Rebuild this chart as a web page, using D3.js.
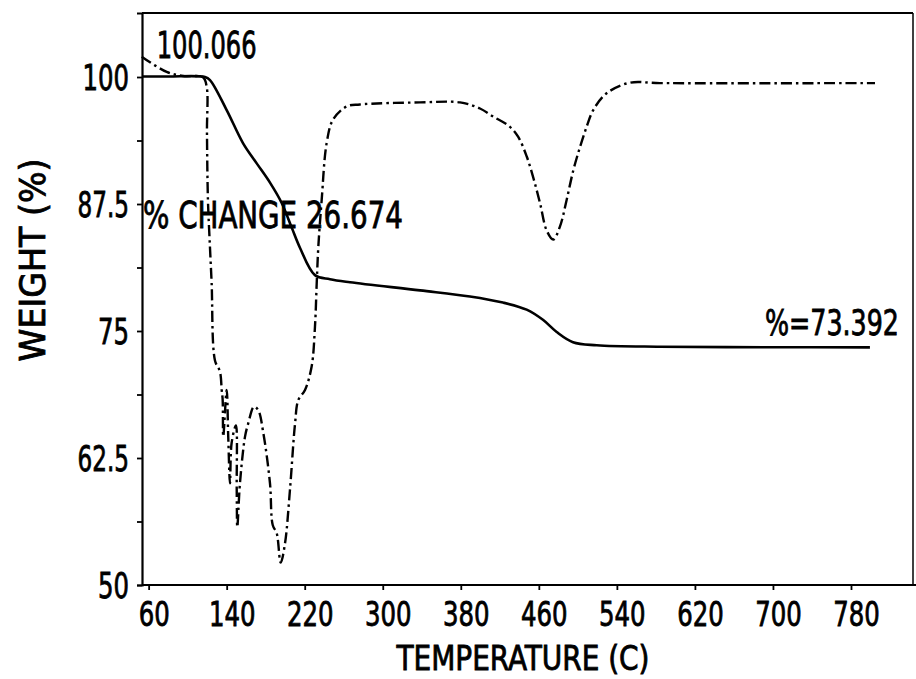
<!DOCTYPE html>
<html>
<head>
<meta charset="utf-8">
<script src="https://cdn.jsdelivr.net/npm/d3@7"></script>
<style>
  body { margin: 0; background: #fff; }
  text { font-family: "DejaVu Sans Condensed", "Liberation Sans Narrow", "DejaVu Sans", sans-serif; fill: #000; stroke: #000; stroke-width: 0.8px; }
</style>
</head>
<body>
<div id="chart-area"></div>
<script>
// TG curve (weight %, solid)
var tgTemp   = [53.2, 80, 117.8, 122.9, 140, 156.7, 170.8, 184.4, 196.4, 206.6, 215.1, 230.5, 245.9, 266.4, 338.2, 389.4, 423.2, 447.5, 464.2, 478.3, 495, 519.3, 584.2, 700, 799.4];
var tgWeight = [100.05, 100.05, 100.0, 99.7, 96.75, 93.5, 91.5, 89.6, 87.6, 85.2, 83.2, 80.5, 80.1, 79.8, 79.0, 78.4, 77.8, 77.1, 76.1, 74.9, 73.9, 73.6, 73.45, 73.4, 73.392];

// DTG curve (dash-dot), drawn on the weight axis
var dtgTemp  = [52.9, 78.5, 95.2, 115.7, 119.5, 119.8, 120.8, 122.9, 124.6, 128.0, 133.1, 134.9, 135.9, 136.5, 140, 141.6, 143.4, 145.1, 149.5, 150.3, 150.9, 153.6, 158.8, 162.1, 168, 172.4, 177.5, 184.4, 187.2, 191.3, 195.4, 199.8, 204.9, 210.1, 213.4, 220.3, 227.1, 230.5, 232.3, 233.9, 237.4, 242.5, 249.0, 263, 276.6, 338.2, 379.2, 399.7, 413.3, 430.4, 438.9, 447.5, 454.3, 461.2, 468, 474.8, 481.7, 488.5, 495.3, 502.2, 509, 515.8, 529.5, 553.4, 584.2, 804.6];
var dtgValue = [102.0, 100.5, 100.1, 99.97, 99.05, 94.5, 87.9, 83.2, 79.7, 72.1, 71.0, 69.2, 68.2, 64.6, 69.2, 64.6, 60.0, 64.0, 65.7, 59.4, 55.7, 60.0, 64.6, 65.9, 67.55, 67.2, 65.0, 60.0, 55.9, 55.1, 52.2, 54.1, 59.4, 65.9, 68.2, 69.2, 71.5, 75.4, 79.7, 83.2, 87.9, 93.5, 95.8, 97.1, 97.3, 97.5, 97.5, 96.9, 96.1, 95.1, 94.1, 92.2, 90.1, 87.6, 84.9, 84.0, 85.3, 87.9, 90.8, 93.1, 95.1, 96.75, 98.4, 99.44, 99.4, 99.4];

var xTicks = [60, 140, 220, 300, 380, 460, 540, 620, 700, 780];
var yTicks = [50, 62.5, 75, 87.5, 100];
var yMinor = [56.25, 68.75, 81.25, 93.75];

var svg = d3.select("#chart-area").append("svg")
  .attr("width", 916)
  .attr("height", 679);

var x = d3.scaleLinear().domain([53.2, 845]).range([142, 914.4]);
var y = d3.scaleLinear().domain([50, 106.3]).range([585, 13]);

// frame
svg.append("line").attr("x1", x(53.2)).attr("x2", 913).attr("y1", 13).attr("y2", 13)
  .attr("stroke", "#000").attr("stroke-width", 2);
svg.append("line").attr("x1", 913).attr("x2", 913).attr("y1", 13).attr("y2", 585)
  .attr("stroke", "#000").attr("stroke-width", 1.5);

function textWidth(s) {
  var n = 0;
  s.split("").forEach(function(c) { n += (c === ".") ? 5 : 15.5; });
  return n;
}

// y axis
var yAxis = svg.append("g").attr("transform", "translate(" + x(53.2) + ",0)")
  .call(d3.axisLeft(y).tickValues(yTicks).tickSize(5).tickPadding(8)
    .tickFormat(function(d) { return String(d); }));
yAxis.select(".domain").attr("stroke-width", 2.2);
yAxis.selectAll(".tick line").attr("stroke-width", 1.8);
yAxis.selectAll("text")
  .attr("font-size", 36)
  .attr("dy", "0.36em")
  .attr("textLength", function(d) { return textWidth(String(d)); })
  .attr("lengthAdjust", "spacingAndGlyphs");
svg.append("g").attr("transform", "translate(" + x(53.2) + ",0)")
  .call(d3.axisLeft(y).tickValues(yMinor).tickSize(5).tickFormat(""))
  .call(function(g) { g.select(".domain").remove(); g.selectAll("line").attr("stroke-width", 1.8); });

// x axis
var xAxis = svg.append("g").attr("transform", "translate(0," + y(50) + ")")
  .call(d3.axisBottom(x).tickValues(xTicks).tickSize(5).tickPadding(12).tickSizeOuter(0));
xAxis.select(".domain").attr("stroke-width", 2.2).attr("d", "M" + x(53.2) + ",0H916");
xAxis.selectAll(".tick line").attr("stroke-width", 1.8);
xAxis.selectAll("text")
  .attr("font-size", 34)
  .attr("dx", 5)
  .attr("textLength", function(d) { return textWidth(String(d)); })
  .attr("lengthAdjust", "spacingAndGlyphs");

// axis titles
svg.append("text")
  .attr("transform", "translate(45,260) rotate(-90)")
  .attr("text-anchor", "middle")
  .attr("font-size", 36)
  .attr("textLength", 203).attr("lengthAdjust", "spacingAndGlyphs")
  .text("WEIGHT (%)");
svg.append("text")
  .attr("x", 523).attr("y", 670)
  .attr("text-anchor", "middle")
  .attr("font-size", 34)
  .attr("textLength", 253).attr("lengthAdjust", "spacingAndGlyphs")
  .text("TEMPERATURE (C)");

// curves
var tgData = tgTemp.map(function(t, i) { return [t, tgWeight[i]]; });
var dtgData = dtgTemp.map(function(t, i) { return [t, dtgValue[i]]; });

var line = d3.line()
  .x(function(d) { return x(d[0]); })
  .y(function(d) { return y(d[1]); })
  .curve(d3.curveCatmullRom.alpha(0.5));

svg.append("path").datum(dtgData)
  .attr("d", line)
  .attr("fill", "none")
  .attr("stroke", "#000")
  .attr("stroke-width", 2.4)
  .attr("stroke-dasharray", "11,4,2.5,4");

svg.append("path").datum(tgData)
  .attr("d", line)
  .attr("fill", "none")
  .attr("stroke", "#000")
  .attr("stroke-width", 2.6);

// annotations
svg.append("text")
  .attr("x", x(68.2)).attr("y", y(101.87))
  .attr("font-size", 37)
  .attr("textLength", 100).attr("lengthAdjust", "spacingAndGlyphs")
  .text("100.066");
svg.append("text")
  .attr("x", x(54.2)).attr("y", y(85.14))
  .attr("font-size", 38)
  .attr("textLength", 260).attr("lengthAdjust", "spacingAndGlyphs")
  .text("% CHANGE 26.674");

// residual label: squeeze with a transform so its box stays inside the frame
var resG = svg.append("g");
var resText = resG.append("text")
  .attr("font-size", 35)
  .text("%=73.392");
var natural = resText.node().getComputedTextLength();
resG.attr("transform", "translate(" + x(691.8) + "," + y(74.6) + ") scale(" + (134 / natural) + ",1)");
</script>
</body>
</html>
